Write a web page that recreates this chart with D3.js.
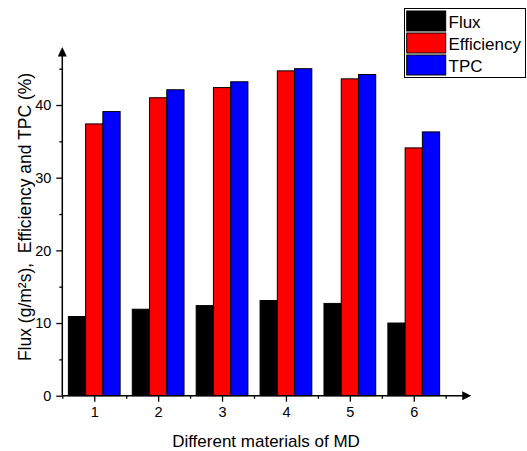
<!DOCTYPE html>
<html><head><meta charset="utf-8">
<script src="https://cdn.jsdelivr.net/npm/d3@7"></script>
<style>body{margin:0;background:#fff}svg{display:block}text{font-family:"Liberation Sans",Arial,sans-serif}</style>
</head><body>
<svg id="c" width="527" height="451"></svg>
<script>
const categories = [1, 2, 3, 4, 5, 6];
const seriesNames = ["Flux", "Efficiency", "TPC"];
const flux = [10.9, 11.9, 12.4, 13.1, 12.7, 10.0];
const efficiency = [37.4, 41.0, 42.4, 44.7, 43.6, 34.1];
const tpc = [39.1, 42.1, 43.2, 45.0, 44.2, 36.3];
const colors = ["#000000", "#ff0000", "#0000ff"];
const yMajorTicks = [0, 10, 20, 30, 40];
const yMinorTicks = [5, 15, 25, 35, 45];
const xMinorTicks = [0.5, 1.5, 2.5, 3.5, 4.5, 5.5, 6.5];
const xTitle = "Different materials of MD";
const yTitle = "Flux (g/m²s),  Efficiency and TPC (%)";

const series = [flux, efficiency, tpc];
const svg = d3.select("#c");
const x0 = 62.3, yBase = 395.7;
const x = d3.scaleLinear().domain([0.5, 6.9]).range([x0, x0 + 6.4 * 63.9]);
const y = d3.scaleLinear().domain([0, 48]).range([yBase, yBase - 48 * 7.267]);
const barW = 0.27;

// bars
series.forEach((vals, si) => {
  svg.append("g").selectAll("rect").data(vals).join("rect")
    .attr("x", (d, i) => x(categories[i] + (si - 1.5) * barW))
    .attr("y", d => y(d))
    .attr("width", x(barW) - x(0))
    .attr("height", d => y(0) - y(d))
    .attr("fill", colors[si])
    .attr("stroke", "#000").attr("stroke-width", 1);
});

// x axis
const xAxis = d3.axisBottom(x).tickValues(categories).tickSize(6).tickPadding(5).tickFormat(d3.format("d"));
const gx = svg.append("g").attr("transform", `translate(0,${yBase})`).call(xAxis);
gx.select(".domain").remove();
gx.selectAll("line").attr("stroke-width", 1.3);
gx.selectAll("text").attr("font-size", 14.5).attr("font-family", "Liberation Sans, Arial, sans-serif").attr("fill", "#000");
const gxm = svg.append("g").attr("transform", `translate(0,${yBase})`)
  .call(d3.axisBottom(x).tickValues(xMinorTicks).tickSize(3).tickFormat(""));
gxm.select(".domain").remove();
gxm.selectAll("line").attr("stroke-width", 1.3);
svg.append("line").attr("x1", x(0.5)).attr("x2", x(6.78)).attr("y1", yBase).attr("y2", yBase)
  .attr("stroke", "#000").attr("stroke-width", 1.5);
const xe = x(6.9);
svg.append("path").attr("d", `M${xe},${yBase}L${xe - 9},${yBase - 4.5}L${xe - 9},${yBase + 4.5}Z`).attr("fill", "#000");

// y axis
const yAxis = d3.axisLeft(y).tickValues(yMajorTicks).tickSize(6).tickPadding(5);
const gy = svg.append("g").attr("transform", `translate(${x0},0)`).call(yAxis);
gy.select(".domain").remove();
gy.selectAll("line").attr("stroke-width", 1.3);
gy.selectAll("text").attr("font-size", 14.5).attr("font-family", "Liberation Sans, Arial, sans-serif").attr("fill", "#000");
const gym = svg.append("g").attr("transform", `translate(${x0},0)`)
  .call(d3.axisLeft(y).tickValues(yMinorTicks).tickSize(3).tickFormat(""));
gym.select(".domain").remove();
gym.selectAll("line").attr("stroke-width", 1.3);
svg.append("line").attr("x1", x0).attr("x2", x0).attr("y1", yBase).attr("y2", y(47))
  .attr("stroke", "#000").attr("stroke-width", 1.5);
const ye = y(48);
svg.append("path").attr("d", `M${x0},${ye}L${x0 - 4.5},${ye + 9.5}L${x0 + 4.5},${ye + 9.5}Z`).attr("fill", "#000");

// titles
svg.append("text").attr("x", 266).attr("y", 447).attr("text-anchor", "middle")
  .attr("font-size", 17).text(xTitle);
svg.append("text").attr("transform", "translate(30.5,217) rotate(-90)").attr("text-anchor", "middle")
  .style("white-space", "pre").attr("font-size", 17.5).text(yTitle);

// legend
const lg = svg.append("g");
lg.append("rect").attr("x", 404.5).attr("y", 8.5).attr("width", 121).attr("height", 69)
  .attr("fill", "#fff").attr("stroke", "#000").attr("stroke-width", 1);
seriesNames.forEach((n, i) => {
  const ry = 11 + i * 22;
  lg.append("rect").attr("x", 406.7).attr("y", ry).attr("width", 39).attr("height", 20)
    .attr("fill", colors[i]).attr("stroke", "#000").attr("stroke-width", 1);
  lg.append("text").attr("x", 448.5).attr("y", ry + 16.5).attr("font-size", 17).text(n);
});
</script>
</body></html>
